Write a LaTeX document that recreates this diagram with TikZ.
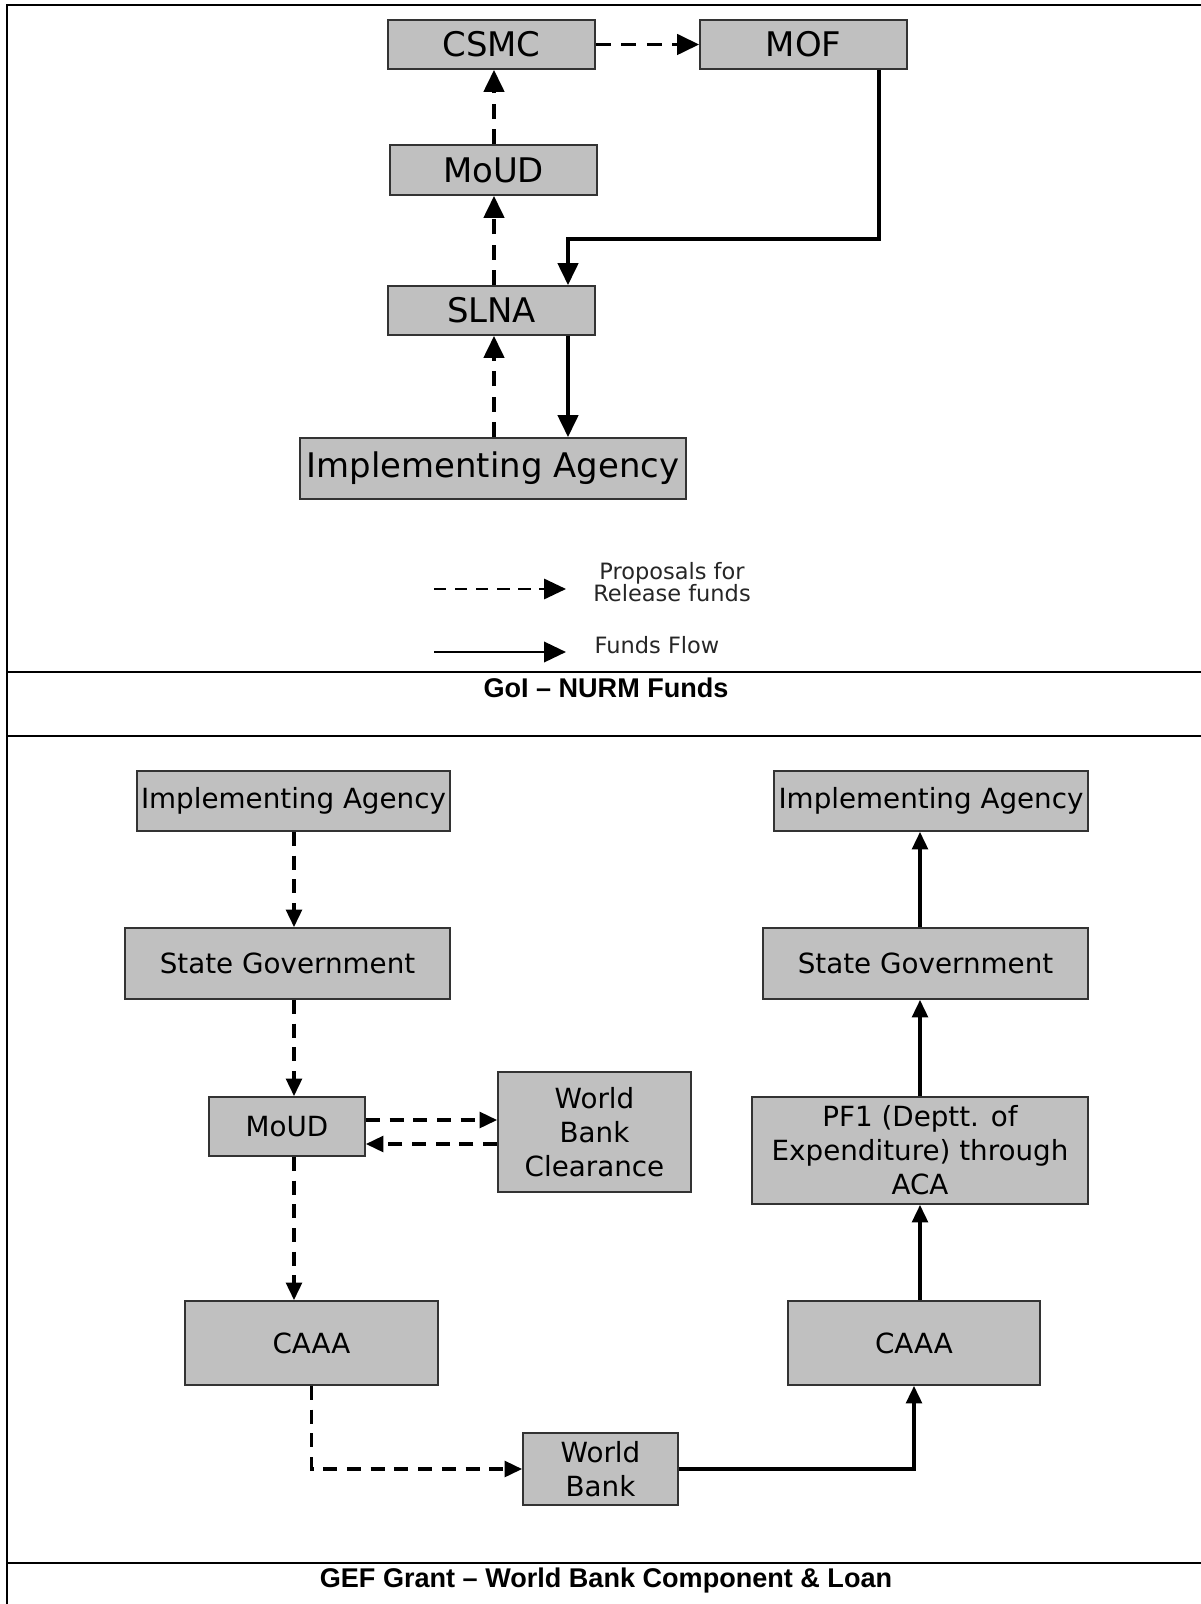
\documentclass[tikz,border=0pt]{standalone}
\usepackage{fontspec}
\setmainfont{DejaVu Sans}
\newfontfamily\titlefont{Liberation Sans}
\usetikzlibrary{arrows.meta}
\definecolor{boxfill}{HTML}{C0C0C0}
\definecolor{boxline}{HTML}{333333}
\begin{document}
\begin{tikzpicture}[x=0.02cm,y=-0.02cm,
  box/.style={draw=boxline,line width=1pt,fill=boxfill,inner sep=0pt,align=center},
  topbox/.style={box,font=\fontsize{19.3}{23}\selectfont},
  botbox/.style={box,font=\fontsize{15.8}{19.3}\selectfont},
  dasharr/.style={line width=2.1pt,dash pattern=on 8.5pt off 6pt,-{Triangle[length=12.5pt,width=11.5pt]}},
  solarr/.style={line width=2.1pt,-{Triangle[length=12.5pt,width=11.5pt]}},
  dasharrb/.style={line width=1.9pt,dash pattern=on 8pt off 5.5pt,-{Triangle[length=10pt,width=9pt]}},
  solarrb/.style={line width=1.9pt,-{Triangle[length=10pt,width=9pt]}},
  tbl/.style={line width=1.5pt,line cap=rect},
  ttl/.style={font=\titlefont\bfseries\fontsize{15.4}{18}\selectfont},
  leg/.style={font=\fontsize{12.8}{12.8}\selectfont,align=center,inner sep=0pt,text=black!85}
]
\useasboundingbox (0,0) rectangle (1200,1604);
% table lines
\draw[tbl] (7,5) -- (1200,5);
\draw[tbl] (7,5) -- (7,1604);
\draw[tbl] (7,672) -- (1200,672);
\draw[tbl] (7,736) -- (1200,736);
\draw[tbl] (7,1563) -- (1200,1563);
\node[ttl] (t1) at (606,688) {GoI – NURM Funds};
\node[ttl] (t2) at (606,1580) {GEF Grant – World Bank Component \& Loan};

% top diagram
\node[topbox,minimum width=4.14cm,minimum height=0.98cm] (CSMC) at (491.5,44.5) {CSMC};
\node[topbox,minimum width=4.14cm,minimum height=0.98cm] (MOF) at (803.5,44.5) {MOF};
\node[topbox,minimum width=4.14cm,minimum height=1.0cm] (MoUDt) at (493.5,170) {MoUD};
\node[topbox,minimum width=4.14cm,minimum height=0.98cm] (SLNA) at (491.5,310.5) {SLNA};
\node[topbox,minimum width=7.72cm,minimum height=1.22cm] (IAt) at (493,468.5) {Implementing Agency};
\coordinate (cx) at (494,0);
\coordinate (fx) at (568,0);
\coordinate (mx) at (879,239);
\draw[dasharr] (CSMC.east) -- (MOF.west);
\draw[dasharr] (cx |- MoUDt.north) -- (cx |- CSMC.south);
\draw[dasharr] (cx |- SLNA.north) -- (cx |- MoUDt.south);
\draw[dasharr] (cx |- IAt.north) -- (cx |- SLNA.south);
\draw[solarr] (mx |- MOF.south) -- (mx) -- (fx |- mx) -- (fx |- SLNA.north);
\draw[solarr] (fx |- SLNA.south) -- (fx |- IAt.north);

% legend
\coordinate (la1) at (434,589);
\coordinate (la2) at (566,589);
\coordinate (lb1) at (434,652);
\coordinate (lb2) at (566,652);
\draw[line width=1.4pt,dash pattern=on 7pt off 5pt,-{Triangle[length=12.5pt,width=11.5pt]}] (la1) -- (la2);
\draw[line width=1.7pt,-{Triangle[length=12.5pt,width=11.5pt]}] (lb1) -- (lb2);
\node[leg] (lgA) at (672,582) {Proposals for\\Release funds};
\node[leg] (lgB) at (657,645) {Funds Flow};

% bottom diagram
\node[botbox,minimum width=6.26cm,minimum height=1.2cm] (IAL) at (293.5,801) {Implementing Agency};
\node[botbox,minimum width=6.5cm,minimum height=1.42cm] (SGL) at (287.5,963.5) {State Government};
\node[botbox,minimum width=3.12cm,minimum height=1.18cm] (MoUDB) at (287,1126.5) {MoUD};
\node[botbox,minimum width=3.86cm,minimum height=2.4cm] (WBC) at (594.5,1132) {World\\Bank\\Clearance};
\node[botbox,minimum width=5.06cm,minimum height=1.68cm] (CAAAL) at (311.5,1343) {CAAA};
\node[botbox,minimum width=3.1cm,minimum height=1.44cm] (WB) at (600.5,1469) {World\\Bank};
\node[botbox,minimum width=5.04cm,minimum height=1.68cm] (CAAAR) at (914,1343) {CAAA};
\node[botbox,minimum width=6.72cm,minimum height=2.14cm] (PF1) at (920,1150.5) {PF1 (Deptt. of\\Expenditure) through\\ACA};
\node[botbox,minimum width=6.5cm,minimum height=1.42cm] (SGR) at (925.5,963.5) {State Government};
\node[botbox,minimum width=6.28cm,minimum height=1.2cm] (IAR) at (931,801) {Implementing Agency};

\coordinate (bx) at (294,0);
\coordinate (rx) at (920,0);
\coordinate (ya) at (0,1120);
\coordinate (yb) at (0,1144);
\draw[dasharrb] (bx |- IAL.south) -- (bx |- SGL.north);
\draw[dasharrb] (bx |- SGL.south) -- (bx |- MoUDB.north);
\draw[dasharrb] (bx |- MoUDB.south) -- (bx |- CAAAL.north);
\draw[dasharrb] (MoUDB.east |- ya) -- (WBC.west |- ya);
\draw[dasharrb] (WBC.west |- yb) -- (MoUDB.east |- yb);
\draw[dasharrb] (CAAAL.south) |- (WB.west);
\draw[solarrb] (WB.east) -| (CAAAR.south);
\draw[solarrb] (rx |- CAAAR.north) -- (rx |- PF1.south);
\draw[solarrb] (rx |- PF1.north) -- (rx |- SGR.south);
\draw[solarrb] (rx |- SGR.north) -- (rx |- IAR.south);
\end{tikzpicture}
\end{document}
